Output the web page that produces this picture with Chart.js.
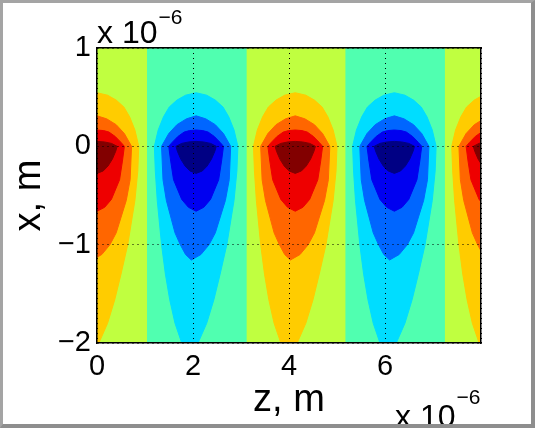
<!DOCTYPE html>
<html>
<head>
<meta charset="utf-8">
<style>
  html, body { margin: 0; padding: 0; background: #fff; }
  #wrap { position: relative; width: 535px; height: 428px; }
  #chart { position: absolute; left: 0; top: 0; }
  #frame {
    position: absolute; left: 0; top: 0; width: 535px; height: 428px; box-sizing: border-box;
    border-left: 3px solid #a4a4a4; border-top: 3px solid #a4a4a4;
    border-right: 4px solid #8e8e8e; border-bottom: 4px solid #8e8e8e;
    pointer-events: none;
  }
</style>
<script src="https://cdn.jsdelivr.net/npm/chart.js@4.4.1/dist/chart.umd.min.js"></script>
</head>
<body>
<div id="wrap">
  <canvas id="chart" width="535" height="428"></canvas>
  <div id="frame"></div>
</div>
<script>
// Axis ranges (units of 1e-6 m)
const zRange = [0, 8];
const xRange = [-2, 1];

// Lobe centres along z
const redCentres = [0, 4.13, 8.26];
const blueCentres = [2.065, 6.195];

// Zero contour: vertical band edges along z, and sign of each band
const bandEdges = [0, 1.03, 3.1, 5.16, 7.23, 8];
const bandSigns = [1, -1, 1, -1, 1];

// Contour outlines, relative to the lobe centre:
// height x, left edge offset and right edge offset in z
const lvl1X = [-2.1, -2.0, -1.8, -1.56, -1.3, -1.0, -0.55, -0.25, 0, 0.166, 0.3, 0.4, 0.47, 0.52, 0.545];
const lvl1L = [-0.27, -0.30, -0.44, -0.55, -0.64, -0.72, -0.81, -0.85, -0.87, -0.79, -0.68, -0.56, -0.40, -0.22, 0];
const lvl1R = [0.00, 0.04, 0.22, 0.37, 0.50, 0.64, 0.79, 0.85, 0.87, 0.79, 0.68, 0.56, 0.40, 0.22, 0];

const lvl2X = [-1.156, -1.10, -1.0, -0.88, -0.55, -0.34, 0, 0.13, 0.22, 0.28, 0.31];
const lvl2L = [-0.10, -0.22, -0.33, -0.44, -0.62, -0.69, -0.72, -0.57, -0.40, -0.20, 0];
const lvl2R = [-0.10, 0.10, 0.27, 0.40, 0.61, 0.69, 0.72, 0.57, 0.40, 0.20, 0];

const lvl3X = [-0.66, -0.62, -0.54, -0.34, -0.15, 0, 0.04, 0.10, 0.145, 0.16, 0.166];
const lvl3L = [0, -0.16, -0.30, -0.47, -0.53, -0.57, -0.50, -0.38, -0.25, -0.14, 0];
const lvl3R = [0, 0.16, 0.30, 0.47, 0.53, 0.57, 0.50, 0.38, 0.25, 0.14, 0];

const lvl4X = [-0.275, -0.25, -0.2, -0.13, -0.05, 0, 0.03, 0.045, 0.05];
const lvl4L = [0, -0.13, -0.23, -0.32, -0.39, -0.42, -0.30, -0.15, 0];
const lvl4R = [0, 0.13, 0.23, 0.32, 0.39, 0.42, 0.30, 0.15, 0];

// Styles (jet-like fills), outermost to innermost
const posColors = ['#c0ff40', '#ffcc00', '#ff6600', '#ee0000', '#820000'];
const negColors = ['#50ffb0', '#00ddff', '#0066ff', '#0000f0', '#000084'];

const levels = [
    { x: lvl1X, l: lvl1L, r: lvl1R },
    { x: lvl2X, l: lvl2L, r: lvl2R },
    { x: lvl3X, l: lvl3L, r: lvl3R },
    { x: lvl4X, l: lvl4L, r: lvl4R }
];

const FONT = "'Liberation Sans', Arial, Helvetica, sans-serif";

// Closed outline around one lobe centre
function outline(centre, lvl) {
    const pts = [];
    for (let i = 0; i < lvl.x.length; i++) pts.push({ x: centre + lvl.l[i], y: lvl.x[i] });
    for (let i = lvl.x.length - 1; i >= 0; i--) pts.push({ x: centre + lvl.r[i], y: lvl.x[i] });
    return pts;
}

function shapeDataset(data, color, order) {
    return {
        data: data,
        fill: 'shape',
        backgroundColor: color,
        borderColor: color,
        borderWidth: 1,
        pointRadius: 0,
        tension: 0,
        order: order
    };
}

const datasets = [];

// background bands between zero contours
for (let i = 0; i < bandSigns.length; i++) {
    const a = bandEdges[i], b = bandEdges[i + 1];
    const rect = [
        { x: a, y: xRange[0] }, { x: a, y: xRange[1] },
        { x: b, y: xRange[1] }, { x: b, y: xRange[0] }
    ];
    datasets.push(shapeDataset(rect, bandSigns[i] > 0 ? posColors[0] : negColors[0], 10));
}

// lobes, outer level first (higher order draws underneath)
levels.forEach((lvl, k) => {
    redCentres.forEach(c => datasets.push(shapeDataset(outline(c, lvl), posColors[k + 1], 9 - k)));
    blueCentres.forEach(c => datasets.push(shapeDataset(outline(c, lvl), negColors[k + 1], 9 - k)));
});

function fmt(v) {
    return v < 0 ? '\u2212' + Math.abs(v) : String(v);
}

// "x 10^-6" multiplier labels
const exponentLabels = {
    id: 'exponentLabels',
    afterDraw(chart) {
        const { ctx, chartArea } = chart;
        ctx.save();
        ctx.fillStyle = '#000';
        ctx.textAlign = 'left';
        ctx.textBaseline = 'alphabetic';
        function put(x, y, yExp) {
            ctx.font = '32px ' + FONT;
            ctx.fillText('x 10', x, y);
            const w = ctx.measureText('x 10').width;
            ctx.font = '21px ' + FONT;
            ctx.fillText('\u22126', x + w + 1, yExp);
        }
        put(chartArea.left, chartArea.top - 5, chartArea.top - 24);
        put(chartArea.right - 86, 427, 404);
        ctx.restore();
    }
};

const ctx = document.getElementById('chart').getContext('2d');
new Chart(ctx, {
    type: 'line',
    data: { datasets: datasets },
    options: {
        responsive: false,
        animation: false,
        events: [],
        layout: { padding: { left: 0, top: 48, right: 54, bottom: 0 } },
        plugins: {
            legend: { display: false },
            tooltip: { enabled: false }
        },
        scales: {
            x: {
                type: 'linear',
                position: 'bottom',
                min: zRange[0],
                max: zRange[1],
                afterFit: s => { s.height = 85; },
                ticks: {
                    stepSize: 2,
                    padding: 7,
                    maxRotation: 0,
                    autoSkip: false,
                    color: '#000',
                    font: { family: FONT, size: 29 },
                    callback: v => (v === zRange[1] ? '' : fmt(v))
                },
                grid: { z: 1, color: '#000', lineWidth: 1, drawTicks: false },
                border: { z: 2, color: '#000', width: 1.5, dash: [1, 4] },
                title: {
                    display: true,
                    text: 'z, m',
                    color: '#000',
                    font: { family: FONT, size: 38 },
                    padding: { top: 0, bottom: 5 }
                }
            },
            y: {
                type: 'linear',
                position: 'left',
                min: xRange[0],
                max: xRange[1],
                afterFit: s => { s.width = 97; },
                ticks: {
                    stepSize: 1,
                    padding: 6,
                    color: '#000',
                    font: { family: FONT, size: 29 },
                    callback: v => fmt(v)
                },
                grid: { z: 1, color: '#000', lineWidth: 1, drawTicks: false },
                border: { z: 2, color: '#000', width: 1.5, dash: [1, 4] },
                title: {
                    display: true,
                    text: 'x, m',
                    color: '#000',
                    font: { family: FONT, size: 38 },
                    padding: { top: 7, bottom: 0 }
                }
            },
            xTop: {
                type: 'linear',
                position: 'top',
                min: zRange[0],
                max: zRange[1],
                afterFit: s => { s.height = 0; },
                ticks: { display: false },
                grid: { display: false, drawTicks: false },
                border: { display: true, z: 2, color: '#000', width: 1.5 }
            },
            yRight: {
                type: 'linear',
                position: 'right',
                min: xRange[0],
                max: xRange[1],
                afterFit: s => { s.width = 0; },
                ticks: { display: false },
                grid: { display: false, drawTicks: false },
                border: { display: true, z: 2, color: '#000', width: 1.5 }
            }
        }
    },
    plugins: [exponentLabels]
});
</script>
</body>
</html>
